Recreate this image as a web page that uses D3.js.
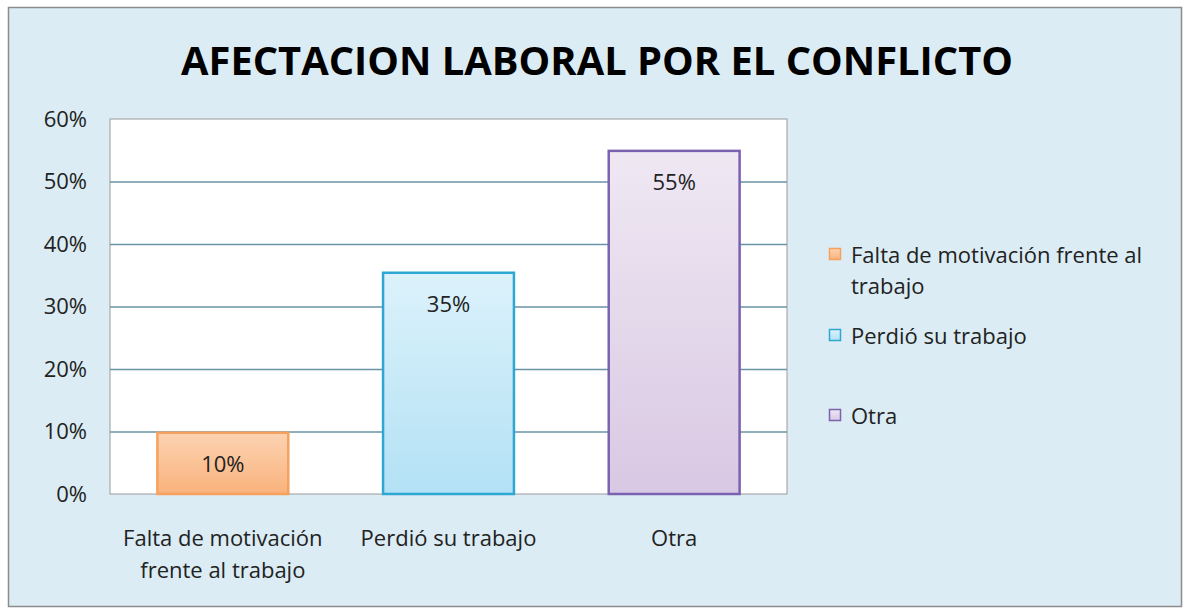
<!DOCTYPE html>
<html>
<head>
<meta charset="utf-8">
<script src="https://cdn.jsdelivr.net/npm/d3@7"></script>
<style>
  body { margin: 0; background: #fff; }
  svg text { font-family: "Open Sans", "Noto Sans", sans-serif; }
</style>
</head>
<body>
<div class="plot"></div>
<script>
/* chart data */
const categories = ["Falta de motivación frente al trabajo", "Perdió su trabajo", "Otra"];
const catLines = [["Falta de motivación", "frente al trabajo"], ["Perdió su trabajo"], ["Otra"]];
const values = [0.098, 0.354, 0.549];
const legendLines = [["Falta de motivación frente al", "trabajo"], ["Perdió su trabajo"], ["Otra"]];
const yTicks = [0, 0.1, 0.2, 0.3, 0.4, 0.5, 0.6];
const title = "AFECTACION LABORAL POR EL CONFLICTO";

const colors = [
  {top: "#fcd3b2", bottom: "#f9b27c", stroke: "#f6a25e"},
  {top: "#dcf2fb", bottom: "#b3e1f5", stroke: "#2ea8d3"},
  {top: "#efe8f3", bottom: "#d9c8e3", stroke: "#7b62b0"}
];

const W = 1185, H = 609;
const margin = {top: 119, right: 398, bottom: 115, left: 110};
const width = W - margin.left - margin.right;
const height = H - margin.top - margin.bottom;

const svg = d3.select(".plot").append("svg")
  .attr("width", W)
  .attr("height", H);

/* gradients */
const defs = svg.append("defs");
colors.forEach((c, i) => {
  const g = defs.append("linearGradient")
    .attr("id", "grad" + i)
    .attr("x1", 0).attr("y1", 0).attr("x2", 0).attr("y2", 1);
  g.append("stop").attr("offset", "0%").attr("stop-color", c.top);
  g.append("stop").attr("offset", "100%").attr("stop-color", c.bottom);
});

/* outer chart area */
svg.append("rect")
  .attr("x", 8.5).attr("y", 7.5)
  .attr("width", W - 12).attr("height", H - 10)
  .attr("fill", "#dbecf4")
  .attr("stroke", "#8c8c8c")
  .attr("stroke-width", 1.5);

/* title */
svg.append("text")
  .attr("x", 597)
  .attr("y", 75)
  .attr("text-anchor", "middle")
  .attr("font-size", 39)
  .attr("font-weight", "bold")
  .attr("textLength", 832)
  .attr("lengthAdjust", "spacingAndGlyphs")
  .attr("fill", "#000")
  .text(title);

const g = svg.append("g")
  .attr("transform", `translate(${margin.left},${margin.top})`);

/* scales */
const xScale = d3.scaleBand()
  .domain(categories)
  .range([0, width])
  .paddingInner(0.42)
  .paddingOuter(0.21);

const yScale = d3.scaleLinear()
  .domain([0, 0.6])
  .range([height, 0]);

/* plot area */
g.append("rect")
  .attr("width", width).attr("height", height)
  .attr("fill", "#fff")
  .attr("stroke", "#9a9a9a");

/* y axis with grid lines */
const yAxis = d3.axisLeft(yScale)
  .tickValues(yTicks)
  .tickFormat(d3.format(".0%"))
  .tickSize(0)
  .tickPadding(23);

const yGroup = g.append("g").call(yAxis);
yGroup.select(".domain").remove();
yGroup.selectAll(".tick text")
  .attr("font-size", 22)
  .attr("fill", "#222");
yGroup.selectAll(".tick")
  .filter(d => d > 0 && d < 0.6)
  .append("line")
  .attr("x2", width)
  .attr("stroke", "#6a93a6")
  .attr("stroke-width", 1.3);

/* bars */
g.selectAll(".bar")
  .data(values)
  .join("rect")
  .attr("class", "bar")
  .attr("x", (d, i) => xScale(categories[i]))
  .attr("y", d => yScale(d))
  .attr("width", xScale.bandwidth())
  .attr("height", d => height - yScale(d))
  .attr("fill", (d, i) => `url(#grad${i})`)
  .attr("stroke", (d, i) => colors[i].stroke)
  .attr("stroke-width", 2.5);

/* data labels */
g.selectAll(".dataLabel")
  .data(values)
  .join("text")
  .attr("class", "dataLabel")
  .attr("x", (d, i) => xScale(categories[i]) + xScale.bandwidth() / 2)
  .attr("y", d => yScale(d) + 39)
  .attr("text-anchor", "middle")
  .attr("font-size", 22)
  .attr("fill", "#222")
  .text(d => d3.format(".0%")(d));

/* category labels */
const xLabels = g.selectAll(".xLabel")
  .data(catLines)
  .join("text")
  .attr("class", "xLabel")
  .attr("x", (d, i) => xScale(categories[i]) + xScale.bandwidth() / 2)
  .attr("y", height + 52)
  .attr("text-anchor", "middle")
  .attr("font-size", 22)
  .attr("fill", "#222");
xLabels.each(function(lines) {
  const t = d3.select(this);
  lines.forEach((l, j) => {
    t.append("tspan")
      .attr("x", t.attr("x"))
      .attr("dy", j === 0 ? 0 : 32)
      .text(l);
  });
});

/* legend */
const legendY = [263, 344, 424];
const legend = svg.append("g");
legendLines.forEach((lines, i) => {
  legend.append("rect")
    .attr("x", 829.5).attr("y", legendY[i] - 14.5)
    .attr("width", 11).attr("height", 11)
    .attr("fill", `url(#grad${i})`)
    .attr("stroke", colors[i].stroke)
    .attr("stroke-width", 1.5);
  const t = legend.append("text")
    .attr("x", 851)
    .attr("y", legendY[i])
    .attr("font-size", 22)
    .attr("fill", "#222");
  lines.forEach((l, j) => {
    t.append("tspan")
      .attr("x", 851)
      .attr("dy", j === 0 ? 0 : 31)
      .text(l);
  });
});
</script>
</body>
</html>
